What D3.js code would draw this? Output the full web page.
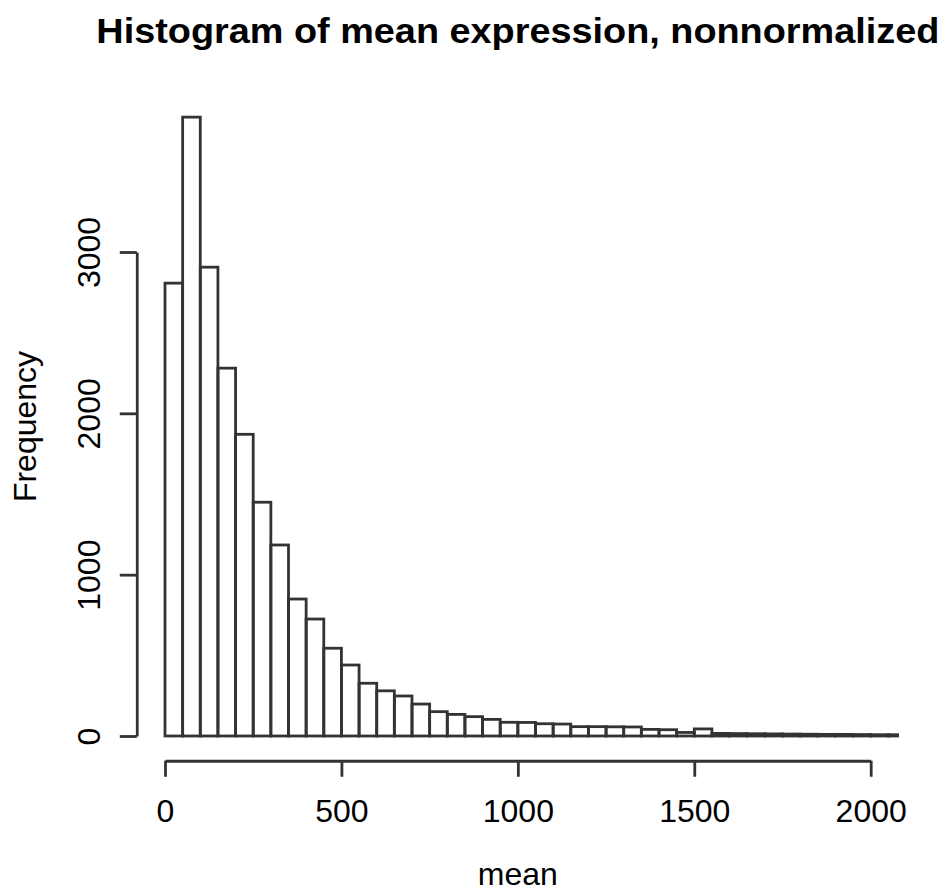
<!DOCTYPE html>
<html>
<head>
<meta charset="utf-8">
<script src="https://cdn.jsdelivr.net/npm/d3@7"></script>
<style>
  body { margin: 0; background: #fff; }
  text { font-family: "Liberation Sans", Arial, Helvetica, sans-serif; fill: #000; }
</style>
</head>
<body>
<svg class="chart" width="947" height="892"></svg>
<script>
// bin starts (width 50) and counts
var binWidth = 50;
var breaks = [0, 50, 100, 150, 200, 250, 300, 350, 400, 450,
  500, 550, 600, 650, 700, 750, 800, 850, 900, 950,
  1000, 1050, 1100, 1150, 1200, 1250, 1300, 1350, 1400, 1450,
  1500, 1550, 1600, 1650, 1700, 1750, 1800, 1850, 1900, 1950,
  2000, 2050];
var counts = [2807, 3836, 2906, 2280, 1870, 1449, 1184, 849, 725, 544,
  440, 327, 280, 248, 198, 151, 134, 120, 103, 85,
  84, 76, 74, 58, 58, 57, 56, 41, 39, 22,
  44, 16, 15, 14, 13, 12, 11, 10, 10, 9,
  8, 8];
var xTicks = [0, 500, 1000, 1500, 2000];
var yTicks = [0, 1000, 2000, 3000];

var lineColor = "#333";
var lineWidth = 2.8;

var svg = d3.select(".chart");

// x - value scale, y - frequency scale
var x = d3.scaleLinear().domain([0, 2000]).range([165, 870.7]);
var y = d3.scaleLinear().domain([0, 3000]).range([736, 252]);

// plot region (R adds 4% each side)
var xlim = [-80, 2080];
var ylim = [-153.4, 3989.8];

svg.append("clipPath")
    .attr("id", "plot")
  .append("rect")
    .attr("x", x(xlim[0]))
    .attr("y", y(ylim[1]))
    .attr("width", x(xlim[1]) - x(xlim[0]))
    .attr("height", y(ylim[0]) - y(ylim[1]));

var bars = svg.append("g")
    .attr("clip-path", "url(#plot)");

bars.selectAll("rect")
    .data(counts)
  .enter().append("rect")
    .attr("x", function(d, i) { return x(breaks[i]); })
    .attr("y", function(d) { return y(d); })
    .attr("width", function(d, i) { return x(breaks[i] + binWidth) - x(breaks[i]); })
    .attr("height", function(d) { return y(0) - y(d); })
    .attr("fill", "none")
    .attr("stroke", lineColor)
    .attr("stroke-width", lineWidth);

// x axis
var xAxis = d3.axisBottom(x)
    .tickValues(xTicks)
    .tickFormat(d3.format("d"))
    .tickSize(16)
    .tickSizeOuter(0)
    .tickPadding(23);

var gx = svg.append("g")
    .attr("transform", "translate(0," + y(ylim[0]) + ")")
    .call(xAxis);

// y axis
var yAxis = d3.axisLeft(y)
    .tickValues(yTicks)
    .tickFormat(d3.format("d"))
    .tickSize(17)
    .tickSizeOuter(0);

var gy = svg.append("g")
    .attr("transform", "translate(" + x(xlim[0]) + ",0)")
    .call(yAxis);

gy.selectAll(".tick text")
    .attr("x", null)
    .attr("dy", null)
    .attr("text-anchor", "middle")
    .attr("transform", "translate(-37,0) rotate(-90)");

svg.selectAll(".domain, .tick line")
    .attr("stroke", lineColor)
    .attr("stroke-width", lineWidth);

svg.selectAll(".tick text")
    .attr("fill", "#000")
    .style("font-size", "32px")
    .style("font-family", "'Liberation Sans', Arial, Helvetica, sans-serif");

var midX = (x(xlim[0]) + x(xlim[1])) / 2;
var midY = (y(ylim[0]) + y(ylim[1])) / 2;

// title
svg.append("text")
    .attr("x", midX)
    .attr("y", 43)
    .attr("text-anchor", "middle")
    .attr("textLength", 843)
    .attr("lengthAdjust", "spacingAndGlyphs")
    .style("font-size", "35px")
    .style("font-weight", "bold")
    .text("Histogram of mean expression, nonnormalized");

// axis titles
svg.append("text")
    .attr("x", midX)
    .attr("y", 885)
    .attr("text-anchor", "middle")
    .style("font-size", "32px")
    .text("mean");

svg.append("text")
    .attr("transform", "translate(36," + midY + ") rotate(-90)")
    .attr("text-anchor", "middle")
    .style("font-size", "32px")
    .text("Frequency");
</script>
</body>
</html>
